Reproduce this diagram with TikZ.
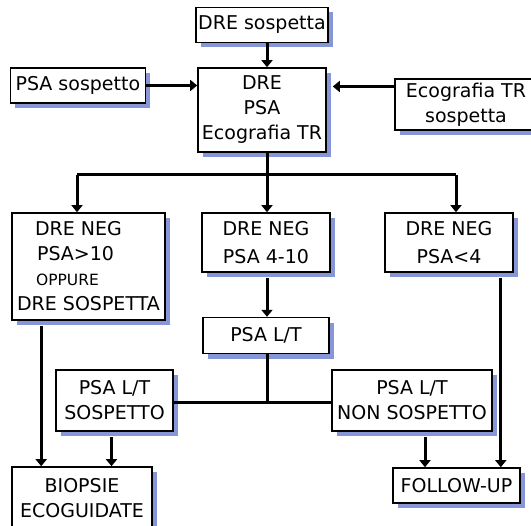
\documentclass[tikz,border=0pt]{standalone}
\usepackage{fontspec}
\setmainfont{DejaVu Sans}
\usetikzlibrary{arrows.meta,positioning,shadows}
\definecolor{ombra}{RGB}{135,150,215}

\begin{document}
\begin{tikzpicture}[
    x=1pt, y=-1pt,
    blocco/.style={draw, line width=1.6pt, fill=white, align=center, inner sep=2pt,
        font=\fontsize{19}{25}\selectfont,
        drop shadow={shadow xshift=5pt, shadow yshift=-5pt, fill=ombra, opacity=1}},
    filo/.style={line width=3pt},
    arrow/.style={filo, -{Triangle[width=11pt,length=7pt]}}
]
\useasboundingbox (0,0) rectangle (531,526);

% Esami iniziali
\node[blocco, minimum width=128pt, minimum height=84pt] (esami) at (262,110) {DRE\\PSA\\Ecografia TR};
\node[blocco, minimum width=132pt, minimum height=35pt, above=24pt of esami] (dresosp) {DRE sospetta};
\node[blocco, minimum width=135pt, minimum height=35pt, left=51pt of esami.north west, anchor=north east] (psasosp) {PSA sospetto};
\node[blocco, minimum width=142pt, minimum height=51pt] (ecotr) at (466,104.5) {Ecografia TR\\sospetta};

% Esito DRE / PSA
\node[blocco, minimum width=153pt, minimum height=107pt, align=left] (negalto) at (88.5,266.5)
    {\hspace*{18pt}DRE NEG\\\hspace*{20pt}PSA>10\\\hspace*{19pt}{\fontsize{15.5}{25}\selectfont OPPURE}\\DRE SOSPETTA};
\node[blocco, minimum width=128pt, minimum height=59pt] (negmedio) at (266,242.5) {DRE NEG\\[3pt]PSA 4-10};
\node[blocco, minimum width=128pt, minimum height=59pt] (negbasso) at (449,242.5) {DRE NEG\\[3pt]PSA<4};
\node[blocco, minimum width=126pt, minimum height=36pt, below=44pt of negmedio] (psalt) {PSA L/T};

% PSA L/T
\node[blocco, minimum width=117pt, minimum height=61pt] (ltsosp) at (114.5,400.5) {PSA L/T\\SOSPETTO};
\node[blocco, minimum width=160pt, minimum height=61pt] (ltnon) at (412,400.5) {PSA L/T\\NON SOSPETTO};

% Conclusioni
\node[blocco, minimum width=140pt, minimum height=63pt] (biopsie) at (82,498.5) {BIOPSIE\\ECOGUIDATE};
\node[blocco, minimum width=127pt, minimum height=35pt] (followup) at (456.5,485.5) {FOLLOW-UP};

\coordinate (bus) at (267,175);
\coordinate (busL) at (77,175);
\coordinate (busR) at (456,175);
\coordinate (giunto) at (267,403);
\coordinate (ecoin) at ([yshift=18pt]ecotr.west);
\coordinate (sx1) at ([xshift=30pt]negalto.south west);
\coordinate (sx2) at ([xshift=-3pt]ltsosp.south);
\coordinate (dx1) at ([xshift=13pt]ltnon.south);
\coordinate (dx2) at ([xshift=-13pt]negbasso.south east);

% Frecce
\draw[arrow] ([xshift=5pt]dresosp.south) -- ([xshift=5pt]esami.north);
\draw[arrow] (psasosp.east) -- (psasosp.east -| esami.west);
\draw[arrow, shorten >=6pt] (ecoin) -- (ecoin -| esami.east);
\draw[filo] ([xshift=5pt]esami.south) -- (bus);
\draw[filo] (busL) -- (busR);
\draw[arrow] (busL) -- (busL |- negalto.north);
\draw[arrow] (bus) -- (bus |- negmedio.north);
\draw[arrow] (busR) -- (busR |- negbasso.north);
\draw[arrow, shorten <=5pt] (bus |- negmedio.south) -- (bus |- psalt.north);
\draw[filo] (psalt.south -| giunto) -- (giunto);
\draw[filo] (ltsosp.east |- giunto) -- (ltnon.west |- giunto);
\draw[arrow, shorten <=5pt] (sx1) -- (sx1 |- biopsie.north);
\draw[arrow, shorten <=5pt] (sx2) -- (sx2 |- biopsie.north);
\draw[arrow, shorten <=5pt] (dx1) -- (dx1 |- followup.north);
\draw[arrow, shorten <=5pt] (dx2) -- (dx2 |- followup.north);

\end{tikzpicture}
\end{document}
